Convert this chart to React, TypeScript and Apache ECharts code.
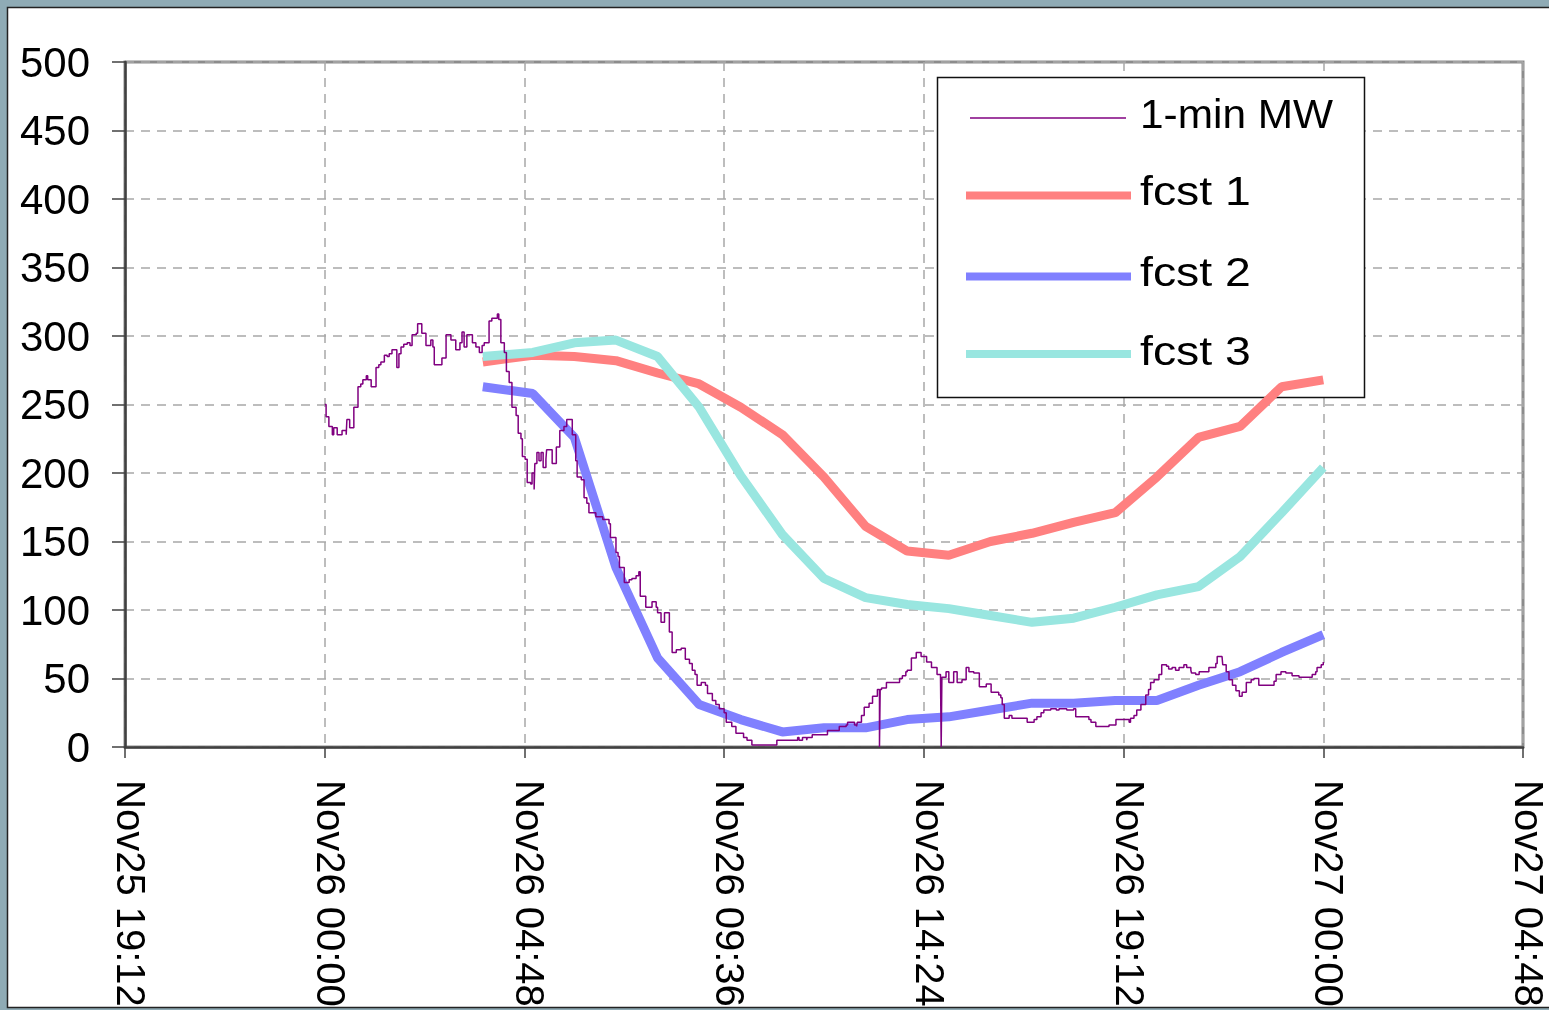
import React, { useEffect, useRef } from "react";
import * as echarts from "echarts";

// x values are minutes since Nov25 00:00
const X_MIN = 1152; // Nov25 19:12
const X_MAX = 3168; // Nov27 04:48
const X_STEP = 288; // 4.8 hours
const Y_MIN = 0;
const Y_MAX = 500;
const Y_STEP = 50;

const seriesNames = ["1-min MW", "fcst 1", "fcst 2", "fcst 3"];

// forecast times: minutes since Nov26 00:00
const fcstMinutes = [228, 300, 360, 420, 480, 540, 600, 660, 720, 780, 840, 900, 960, 1020, 1080, 1140, 1200, 1260, 1320, 1380, 1440];
const fcst1 = [281, 286, 285, 282, 273, 265, 248, 228, 197, 161, 143, 140, 150, 156, 164, 171, 197, 226, 234, 263, 268];
const fcst2 = [263, 258, 226, 131, 65, 31, 20, 11, 14, 14, 20, 22, 27, 32, 32, 34, 34, 45, 55, 69, 82];
const fcst3 = [285, 288, 295, 297, 285, 248, 198, 155, 123, 109, 104, 101, 96, 91, 94, 102, 111, 117, 139, 171, 204];

// 1-min MW: minutes since Nov26 00:00 (value holds until next time)
const mwMinutes = [
  0, 2, 6, 11, 13, 18, 25, 31, 32, 36, 42, 48, 52, 55, 60, 62, 67, 74, 78, 81, 86, 90, 93, 97, 104, 107, 110, 114, 119, 123,
  126, 132, 134, 140, 146, 153, 156, 158, 169, 175, 182, 189, 195, 198, 201, 205, 213, 218, 223, 227, 230, 237, 241, 249, 251, 254,
  259, 262, 266, 270, 276, 279, 283, 285, 289, 292, 297, 299, 302, 303, 306, 309, 312, 315, 319, 320, 328, 334, 339, 345, 349, 357,
  362, 364, 370, 374, 378, 381, 391, 401, 410, 412, 420, 423, 425, 432, 439, 443, 449, 453, 455, 463, 472, 478, 480, 485, 490, 497,
  501, 507, 514, 520, 526, 530, 534, 537, 543, 549, 552, 559, 564, 569, 576, 579, 587, 593, 604, 609, 616, 652, 682, 684, 689, 695,
  696, 703, 725, 742, 752, 754, 764, 767, 768, 774, 778, 785, 790, 797, 800, 801, 803, 810, 829, 833, 838, 840, 846, 853, 860, 868,
  875, 883, 888, 889, 890, 896, 900, 907, 912, 919, 925, 929, 936, 944, 954, 961, 972, 975, 977, 980, 987, 991, 1013, 1023, 1027, 1033,
  1037, 1047, 1055, 1059, 1070, 1080, 1083, 1102, 1105, 1112, 1131, 1141, 1160, 1162, 1167, 1171, 1177, 1184, 1188, 1191, 1196, 1203,
  1207, 1214, 1217, 1222, 1227, 1232, 1239, 1243, 1249, 1250, 1256, 1261, 1268, 1275, 1285, 1287, 1294, 1295, 1300, 1304, 1309, 1314,
  1319, 1323, 1329, 1336, 1340, 1347, 1366, 1369, 1372, 1379, 1386, 1395, 1405, 1419, 1424, 1429, 1431, 1437, 1440,
];
const mwValues = [
  250, 241, 234, 228, 233, 228, 231, 228, 239, 233, 248, 263, 265, 268, 271, 268, 263, 277, 279, 281, 286, 285, 287, 290, 277, 287, 292, 294, 295, 293,
  301, 302, 309, 302, 293, 297, 292, 279, 284, 301, 297, 290, 295, 303, 292, 301, 295, 292, 288, 293, 295, 311, 313, 316, 312, 295,
  288, 274, 266, 248, 242, 229, 225, 212, 210, 193, 192, 200, 188, 207, 215, 209, 215, 204, 210, 217, 207, 219, 231, 234, 239, 228,
  209, 197, 195, 182, 178, 171, 168, 166, 163, 153, 142, 139, 131, 120, 122, 123, 125, 128, 110, 102, 106, 102, 98, 91, 98, 84,
  69, 71, 72, 64, 61, 56, 53, 45, 47, 45, 39, 34, 31, 28, 25, 18, 15, 10, 7, 5, 1.5, 5, 7, 5, 7, 5,
  7, 9, 12, 15, 16, 18, 16, 15, 18, 23, 29, 32, 37, 42, 0, 42, 43, 47, 50, 52, 55, 56, 65, 69, 66, 62,
  58, 53, 51, 0, 51, 55, 47, 55, 47, 49, 58, 55, 54, 44, 46, 40, 38, 36, 31, 21, 23, 21, 18, 20, 22, 25,
  27, 28, 27, 28, 27, 28, 22, 20, 18, 15, 16, 20, 18, 21, 23, 27, 31, 38, 42, 47, 49, 53,
  60, 59, 57, 58, 56, 58, 60, 58, 56, 54, 53, 55, 55, 58, 61, 66, 66, 60, 55, 49, 45, 41,
  37, 40, 47, 49, 50, 45, 45, 48, 53, 55, 54, 52, 51, 51, 53, 55, 58, 60, 62,
];

const colors = ["#800080", "#FF8080", "#8080FF", "#99E6E0"];

function fmtTime(v: number): string {
  const t = Math.round(v);
  const day = 25 + Math.floor(t / 1440);
  const m = t % 1440;
  const hh = String(Math.floor(m / 60)).padStart(2, "0");
  const mm = String(m % 60).padStart(2, "0");
  return `Nov${day} ${hh}:${mm}`;
}

const FONT = '"Liberation Sans", Arial, sans-serif';

export default function App() {
  const ref = useRef<HTMLDivElement>(null);
  useEffect(() => {
    if (!ref.current) return;
    const chart = echarts.init(ref.current, undefined, { renderer: "svg" });
    const toPairs = (vals: number[]) => fcstMinutes.map((m, i) => [m + 1440, vals[i]]);
    const mwData = mwMinutes.map((m, i) => [m + 1440, mwValues[i]]);

    const legendY = [118, 195.5, 276.5, 354];
    const legendTextY = [114, 191, 272, 351];

    const legendGraphics: any[] = [
      {
        type: "rect",
        z: 1,
        shape: { x: 937.5, y: 77.5, width: 427, height: 320 },
        style: { fill: "#ffffff", stroke: "#111111", lineWidth: 1.5 },
      },
    ];
    seriesNames.forEach((name, i) => {
      legendGraphics.push({
        type: "line",
        z: 3,
        shape: i === 0 ? { x1: 970, y1: legendY[i], x2: 1126, y2: legendY[i] } : { x1: 966, y1: legendY[i], x2: 1131, y2: legendY[i] },
        style: { stroke: colors[i], lineWidth: i === 0 ? 1.5 : 8 },
      });
      legendGraphics.push({
        type: "text",
        z: 3,
        x: 1140,
        y: legendTextY[i],
        scaleX: i === 0 ? 1.06 : 1.16,
        style: {
          text: name,
          fill: "#000000",
          fontSize: 40,
          fontFamily: FONT,
          verticalAlign: "middle",
          align: "left",
        },
      });
    });

    chart.setOption({
      animation: false,
      backgroundColor: "transparent",
      graphic: [
        {
          type: "rect",
          z: -10,
          shape: { x: 0, y: 0, width: 1549, height: 1010 },
          style: { fill: "#8FABB5" },
        },
        {
          type: "rect",
          z: -9,
          shape: { x: 7.5, y: 7.5, width: 1600, height: 1000 },
          style: { fill: "#ffffff", stroke: "#222222", lineWidth: 1.5 },
        },
        ...legendGraphics,
      ],
      grid: {
        left: 125,
        top: 62,
        width: 1398,
        height: 685,
        show: true,
        borderColor: "#8c8c8c",
        borderWidth: 3,
        backgroundColor: "transparent",
      },
      xAxis: {
        type: "value",
        min: X_MIN,
        max: X_MAX,
        interval: X_STEP,
        axisLine: { show: true, lineStyle: { color: "#404040", width: 2.5 } },
        axisTick: { show: true, length: 11, lineStyle: { color: "#404040", width: 1.5 } },
        axisLabel: {
          formatter: (v: number) => fmtTime(v),
          rotate: -90,
          margin: 33,
          fontSize: 40,
          fontFamily: FONT,
          color: "#000000",
          verticalAlign: "bottom",
          lineHeight: 12,
          showMinLabel: true,
          showMaxLabel: true,
        },
        splitLine: { show: true, lineStyle: { color: "#a8a8a8", width: 1.5, type: [9, 7] } },
      },
      yAxis: {
        type: "value",
        min: Y_MIN,
        max: Y_MAX,
        interval: Y_STEP,
        axisLine: { show: true, lineStyle: { color: "#404040", width: 2.5 } },
        axisTick: { show: true, length: 13, lineStyle: { color: "#404040", width: 1.5 } },
        axisLabel: {
          margin: 35,
          fontSize: 42,
          fontFamily: FONT,
          color: "#000000",
        },
        splitLine: { show: true, lineStyle: { color: "#a8a8a8", width: 1.5, type: [9, 7] } },
      },
      series: [
        {
          name: seriesNames[1],
          type: "line",
          data: toPairs(fcst1),
          showSymbol: false,
          lineStyle: { color: colors[1], width: 9, cap: "butt" },
          z: 2,
        },
        {
          name: seriesNames[2],
          type: "line",
          data: toPairs(fcst2),
          showSymbol: false,
          lineStyle: { color: colors[2], width: 9, cap: "butt" },
          z: 2,
        },
        {
          name: seriesNames[3],
          type: "line",
          data: toPairs(fcst3),
          showSymbol: false,
          lineStyle: { color: colors[3], width: 9, cap: "butt" },
          z: 2,
        },
        {
          name: seriesNames[0],
          type: "line",
          step: "end",
          data: mwData,
          showSymbol: false,
          lineStyle: { color: colors[0], width: 1.5 },
          z: 4,
        },
      ],
    });
    return () => chart.dispose();
  }, []);

  return (
    <div style={{ position: "fixed", left: 0, top: 0, width: 1549, height: 1010, overflow: "hidden" }}>
      <div ref={ref} style={{ width: 1549, height: 1010 }} />
    </div>
  );
}
